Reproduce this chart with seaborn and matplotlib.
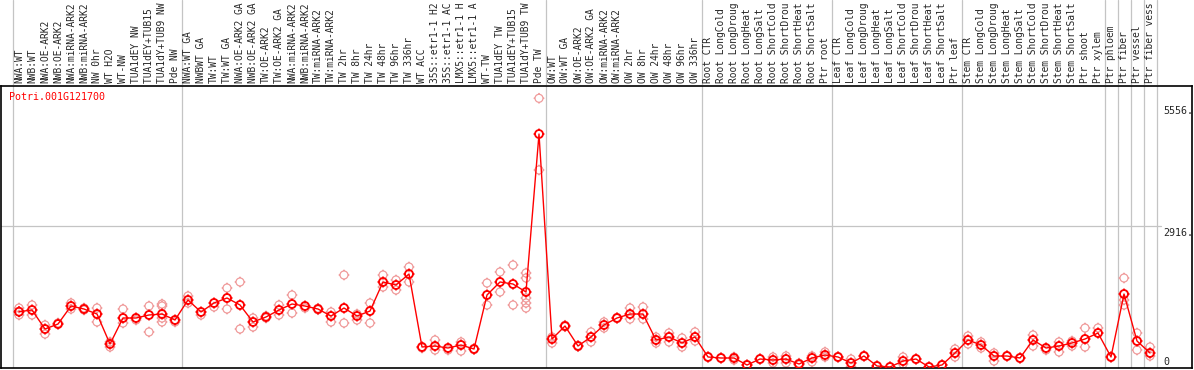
#!/usr/bin/env python3
"""
Expression profile for Potri.001G121700 across poplar samples.
Replicates as pale circles, sample means joined by a red line.
"""

import numpy as np
import pandas as pd
import matplotlib
matplotlib.use("Agg")
import matplotlib.pyplot as plt
from matplotlib.path import Path
import seaborn as sns

GENE = "Potri.001G121700"

SAMPLES = [
    "NWA:WT", "NWB:WT", "NWA:OE-ARK2", "NWB:OE-ARK2", "NWA:miRNA-ARK2",
    "NWB:miRNA-ARK2", "NW 0hr", "WT H2O", "WT-NW", "TUA1dEY NW",
    "TUA1dEY+TUB15 NW", "TUA1dY+TUB9 NW", "Pde NW",
    "NWA:WT GA", "NWBWT GA", "TW:WT", "TW:WT GA", "NWA:OE-ARK2 GA",
    "NWB:OE-ARK2 GA", "TW:OE-ARK2", "TW:OE-ARK2 GA", "NWA:miRNA-ARK2",
    "NWB:miRNA-ARK2", "TW:miRNA-ARK2", "TW:miRNA-ARK2", "TW 2hr", "TW 8hr",
    "TW 24hr", "TW 48hr", "TW 96hr", "TW 336hr", "WT ACC",
    "35S::etr1-1 H2O", "35S::etr1-1 ACC", "LMX5::etr1-1 H2O",
    "LMX5::etr1-1 ACC", "WT-TW", "TUA1dEY TW", "TUA1dEY+TUB15 TW",
    "TUA1dY+TUB9 TW", "Pde TW",
    "OW:WT", "OW:WT GA", "OW:OE-ARK2", "OW:OE-ARK2 GA", "OW:miRNA-ARK2",
    "OW:miRNA-ARK2", "OW 2hr", "OW 8hr", "OW 24hr", "OW 48hr", "OW 96hr",
    "OW 336hr",
    "Root CTR", "Root LongCold", "Root LongDrought", "Root LongHeat",
    "Root LongSalt", "Root ShortCold", "Root ShortDrought", "Root ShortHeat",
    "Root ShortSalt", "Ptr root",
    "Leaf CTR", "Leaf LongCold", "Leaf LongDrought", "Leaf LongHeat",
    "Leaf LongSalt", "Leaf ShortCold", "Leaf ShortDrought", "Leaf ShortHeat",
    "Leaf ShortSalt", "Ptr leaf",
    "Stem CTR", "Stem LongCold", "Stem LongDrought", "Stem LongHeat",
    "Stem LongSalt", "Stem ShortCold", "Stem ShortDrought", "Stem ShortHeat",
    "Stem ShortSalt", "Ptr shoot", "Ptr xylem",
    "Ptr phloem", "Ptr fiber", "Ptr vessel", "Ptr fiber vessel",
]
MAX_CHARS = 14  # header only has room for this many characters

# sample index where each group starts (gray separators)
GROUP_STARTS = [0, 13, 41, 53, 63, 73, 84, 85, 86, 87, 88]

MEANS = [
    1160, 1195, 803, 906, 1277, 1215, 1112, 494, 1030, 1030, 1092, 1112, 989,
    1401, 1154, 1339, 1442, 1298, 948, 1051, 1195, 1318, 1277, 1215, 1071,
    1236, 1071, 1174, 1772, 1710, 1936, 433, 453, 412, 474, 391, 1504, 1772,
    1730, 1566, 4820,
    597, 865, 453, 639, 886, 1030, 1112, 1112, 577, 639, 515, 639,
    227, 206, 206, 62, 185, 165, 185, 82, 206, 268,
    227, 103, 247, 41, 21, 144, 185, 21, 62, 309,
    577, 474, 247, 247, 206, 577, 412, 453, 515, 597, 721,
    227, 1524, 556, 309,
]

REPLICATES = [
    [1236, 1154, 1092], [1298, 1195, 1092], [886, 803, 700], [927, 906],
    [1339, 1277, 1215], [1236, 1195], [1236, 1112, 948], [536, 494, 433],
    [1215, 1030, 927], [1030, 989], [1277, 1092, 742],
    [1318, 1277, 1112, 1030, 948], [989, 948],
    [1483, 1401, 1339], [1154, 1092], [1339, 1257], [1648, 1442, 1215],
    [1772, 1298, 803], [1030, 948, 845], [1030, 1072], [1298, 1195, 1092],
    [1504, 1318, 1133], [1277, 1236], [1200, 1230], [1154, 1071, 948],
    [1916, 1236, 927], [1112, 1071, 989], [1339, 1174, 927],
    [1916, 1772, 1669], [1813, 1710, 1607], [2081, 1936, 1772], [433, 412],
    [577, 453, 371], [412, 371], [536, 474, 350], [380, 400],
    [1751, 1504, 1298], [1978, 1772, 1566], [2122, 1730, 1298],
    [1957, 1854, 1566, 1442, 1339, 1236], [5556, 4079],
    [639, 597, 515], [850, 880], [440, 465], [742, 639, 536],
    [948, 886, 824], [1020, 1040], [1236, 1112, 1009], [1257, 1112, 1009],
    [639, 577, 515], [721, 639, 536], [618, 515, 433], [742, 639, 556],
    [220, 235], [200, 212], [227, 165], [55, 68], [180, 190],
    [227, 165, 103], [247, 185, 103], [100, 62, 85], [247, 206, 124],
    [330, 268, 227],
    [220, 235], [185, 103, 21], [240, 255], [35, 45], [15, 25],
    [227, 144, 82], [180, 190], [15, 25], [55, 68], [391, 309, 227],
    [659, 577, 494], [536, 474, 412], [309, 247, 144], [240, 255],
    [200, 212], [680, 577, 453], [412, 371], [536, 453, 330],
    [556, 515, 453], [824, 597, 433], [824, 721],
    [220, 235], [1854, 1524, 1401, 1298], [721, 556, 371], [433, 309, 247],
]

AXIS_LABELS = [(5556, "5556."), (2916, "2916."), (0, "0")]

PALE = "#F09C9C"
RED = "#FF0000"
GRID = "#C4C4C4"


def ring_marker():
    """Open circle with four short ticks, like the eFP browser markers."""
    circle = Path.circle((0, 0), 1.0)
    verts = list(circle.vertices)
    codes = list(circle.codes)
    for dx, dy in [(1, 0), (-1, 0), (0, 1), (0, -1)]:
        verts += [(dx * 1.0, dy * 1.0), (dx * 1.35, dy * 1.35)]
        codes += [Path.MOVETO, Path.LINETO]
    return Path(verts, codes)


def main():
    sns.set_style("white")
    plt.rcParams["font.family"] = ["DejaVu Sans Mono"]

    n = len(SAMPLES)
    pos = np.arange(n)
    rep_df = pd.DataFrame(
        [(i, v) for i, reps in enumerate(REPLICATES) for v in reps],
        columns=["pos", "value"],
    )
    mean_df = pd.DataFrame({"pos": pos, "value": MEANS})

    W, H = 1194, 370
    fig = plt.figure(figsize=(W / 100, H / 100), dpi=100)

    # pixel geometry
    left_px, right_px = 0.5, 1192
    top_px, bottom_px = 86, 368
    header_px = 85
    step = 13.0
    first_px = 19
    xmin = -(first_px - left_px) / step
    xmax = xmin + (right_px - left_px) / step
    ymax = (bottom_px - top_px) * 20.6

    ax = fig.add_axes([left_px / W, (H - bottom_px) / H,
                       (right_px - left_px) / W, (bottom_px - top_px) / H])
    hx = fig.add_axes([left_px / W, (H - header_px) / H,
                       (right_px - left_px) / W, header_px / H])

    # separators
    for b in GROUP_STARTS:
        for a in (ax, hx):
            a.axvline(b - 0.5, color=GRID, lw=0.9, zorder=0)
    ax.axhline(2916, xmin=0, xmax=(1161 - left_px) / (right_px - left_px),
               color=GRID, lw=0.9, zorder=0)

    marker = ring_marker()
    sns.scatterplot(data=rep_df, x="pos", y="value", ax=ax, marker=marker,
                    s=60, facecolors="none", edgecolor=PALE, color=PALE,
                    linewidth=0.9, zorder=2, legend=False)
    sns.lineplot(data=mean_df, x="pos", y="value", ax=ax, color=RED,
                 lw=1.0, zorder=3, legend=False)
    sns.scatterplot(data=mean_df, x="pos", y="value", ax=ax, marker=marker,
                    s=60, facecolors="none", edgecolor=RED, color=RED,
                    linewidth=1.3, zorder=4, legend=False)

    ax.set_xlim(xmin, xmax)
    ax.set_ylim(0, ymax)
    ax.set_xticks([])
    ax.set_yticks([])
    ax.set_xlabel("")
    ax.set_ylabel("")
    for sp in ax.spines.values():
        sp.set_color("black")
        sp.set_linewidth(1.2)

    ax.text((9 - left_px) / (right_px - left_px), (bottom_px - 97) / (bottom_px - top_px),
            GENE, color=RED, fontsize=7.2, ha="left", va="center",
            transform=ax.transAxes)

    # right-hand scale labels
    lab_x = (1163 - left_px) / (right_px - left_px)
    lab_y = {5556: 111, 2916: 233, 0: 362}
    for val, txt in AXIS_LABELS:
        ax.text(lab_x, (bottom_px - lab_y[val]) / (bottom_px - top_px), txt,
                fontsize=7.2, ha="left", va="center", transform=ax.transAxes)

    # header with rotated sample names
    hx.set_xlim(xmin, xmax)
    hx.set_ylim(0, 1)
    hx.axis("off")
    for i, name in enumerate(SAMPLES):
        hx.text(i, (header_px - 83) / header_px, name[:MAX_CHARS], rotation=90,
                fontsize=6.9, ha="center", va="bottom",
                transform=hx.get_xaxis_transform())

    fig.savefig("out.png", dpi=100)
    plt.close(fig)


if __name__ == "__main__":
    main()
